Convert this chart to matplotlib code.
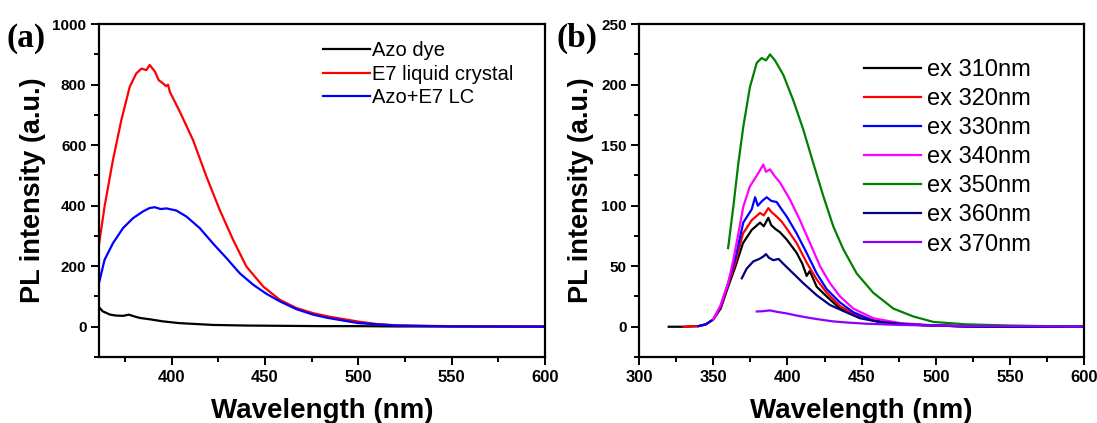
import matplotlib
matplotlib.use("Agg")
import matplotlib.pyplot as plt
from matplotlib.ticker import MultipleLocator

plt.rcParams['font.family'] = ['Liberation Sans', 'DejaVu Sans']

# ---- panel (a) data ----
wl_azo = [361, 363, 367, 370, 374, 377, 380, 383, 389, 395, 404, 413, 422, 431, 440, 460, 480, 500, 520, 550, 580, 600]
pl_azo = [65, 51, 40, 37, 36, 40, 34, 29, 24, 18, 12, 9, 6, 5, 4, 3, 2, 2, 1, 1, 1, 1]

wl_e7 = [361, 364, 368.5, 373, 377.5, 381, 383.8, 386.4, 388.2, 391, 393, 395.3, 397, 398, 399, 404.3,
         411.4, 418.6, 425.7, 432.9, 440, 449, 457.9, 466.8, 475.7, 483.8, 500, 510, 520, 535, 550, 575, 600]
pl_e7 = [271, 397, 551, 683, 793, 837, 853, 848, 865, 843, 815, 804, 795, 800, 776, 711,
         617, 496, 386, 287, 199, 133, 89, 62, 45, 34, 17, 9, 5, 3, 2, 1, 1]

wl_mix = [361, 364, 368.5, 373.9, 379.3, 384.6, 388, 390.9, 394, 397.2, 402.5, 407.9, 415, 422, 429.3,
          436.4, 443.6, 450.7, 457.9, 466.8, 475.7, 483.8, 500, 520, 550, 600]
pl_mix = [144, 221, 276, 326, 359, 381, 392, 395, 389, 391, 384, 364, 326, 276, 227,
          177, 139, 109, 84, 58, 40, 29, 12, 4, 1, 0]

# ---- panel (b) data: emission for each excitation wavelength ----
ex_labels = ['ex 310nm', 'ex 320nm', 'ex 330nm', 'ex 340nm', 'ex 350nm', 'ex 360nm', 'ex 370nm']
ex_colors = ['#000000', '#ff0000', '#0000ff', '#ff00ff', '#008000', '#000080', '#8b00ff']

wl_310 = [320, 330, 340, 345, 350, 355, 360, 365, 370, 375.9, 381.5, 384, 387.1, 389, 391.6, 395, 399.5,
          406.2, 410, 412.9, 415, 419.7, 426.4, 435.4, 444, 458, 475, 500, 530, 560, 600]
pl_310 = [0, 0, 0.5, 2, 6, 15, 33, 50, 69, 80, 86, 83, 90, 84, 81, 78, 72,
          61, 52, 42, 46, 33, 25, 15, 10, 5, 2, 1, 0, 0, 0]

wl_320 = [330, 340, 345, 350, 355, 360, 365, 370, 375.9, 381.5, 384, 387.1, 389, 392.7, 396, 399.5,
          406.2, 412.9, 419.7, 426.4, 435.4, 444, 458, 475, 500, 530, 560, 600]
pl_320 = [0, 0.5, 2, 6, 16, 35, 53, 77, 88, 94, 92, 98, 95, 91, 87, 81,
          69, 53, 39, 28, 17, 11, 5, 2, 1, 0, 0, 0]

wl_330 = [340, 345, 350, 355, 360, 365, 370.2, 375.9, 378.2, 380, 383, 386, 389, 392.7, 396, 399.5,
          406.2, 412.9, 419.7, 426.4, 435.4, 444.3, 457.8, 475, 500, 530, 560, 600]
pl_330 = [0.5, 2, 6, 17, 36, 57, 86, 97, 107, 100, 104, 107, 104, 103, 97, 91,
          77, 61, 44, 31, 20, 12, 5, 2, 1, 0, 0, 0]

wl_340 = [350, 355, 360, 363.5, 366.9, 370.2, 374.7, 380.4, 383.7, 385.5, 388.2, 391, 395, 401.7,
          408.4, 415.2, 421.9, 428.6, 435.4, 444.3, 457.8, 476, 500, 530, 560, 600]
pl_340 = [6, 18, 36, 55, 77, 99, 116, 127, 134, 128, 130, 125, 119, 105,
          88, 69, 50, 36, 25, 15, 7, 3, 1, 0, 0, 0]

wl_350 = [360, 363.5, 366.9, 370.2, 374.7, 379.3, 382.6, 385.5, 388.2, 391.6, 397.2, 403.9, 410.6,
          417.4, 424.1, 430.8, 437.6, 446.6, 457.8, 471.3, 484.7, 498.2, 520, 550, 600]
pl_350 = [65, 99, 135, 165, 198, 218, 222, 220, 225, 220, 208, 187, 163,
          135, 108, 83, 64, 44, 28, 15, 8.5, 4, 2, 1, 0]

wl_360 = [369.2, 372.5, 377, 381, 383.7, 385.5, 387.5, 390.4, 394, 397.2, 403.9, 410.6, 419.7,
          428.6, 437.6, 448.8, 462, 480, 500, 530, 560, 600]
pl_360 = [40, 48, 54, 56, 58, 60, 57, 55, 56, 52, 44, 36, 26,
          18, 13, 7, 4, 2, 1, 0, 0, 0]

wl_370 = [379.3, 383, 388.2, 393, 399.5, 406, 412.9, 420, 430.8, 440, 453, 476, 500, 530, 560, 600]
pl_370 = [12.6, 12.8, 13.5, 12.3, 11, 9.3, 7.7, 6.3, 4.4, 3.5, 2.5, 1.5, 1, 0.5, 0.5, 0]

ex_wl = [wl_310, wl_320, wl_330, wl_340, wl_350, wl_360, wl_370]
ex_pl = [pl_310, pl_320, pl_330, pl_340, pl_350, pl_360, pl_370]

fig = plt.figure(figsize=(10.97, 4.23), dpi=100)
ax1 = fig.add_axes([0.0902, 0.156, 0.4066, 0.787])
ax2 = fig.add_axes([0.5825, 0.156, 0.4061, 0.787])

lw = 1.6
ax1.plot(wl_azo, pl_azo, color='#000000', lw=lw, label='Azo dye')
ax1.plot(wl_e7, pl_e7, color='#ff0000', lw=lw, label='E7 liquid crystal')
ax1.plot(wl_mix, pl_mix, color='#0000ff', lw=lw, label='Azo+E7 LC')
ax1.set_xlim(361, 600)
ax1.set_ylim(-100, 1000)
ax1.xaxis.set_major_locator(MultipleLocator(50))
ax1.xaxis.set_minor_locator(MultipleLocator(25))
ax1.yaxis.set_major_locator(MultipleLocator(200))
ax1.yaxis.set_minor_locator(MultipleLocator(100))

for wl, pl, c, lab in zip(ex_wl, ex_pl, ex_colors, ex_labels):
    ax2.plot(wl, pl, color=c, lw=lw, label=lab)
ax2.set_xlim(300, 600)
ax2.set_ylim(-25, 250)
ax2.xaxis.set_major_locator(MultipleLocator(50))
ax2.xaxis.set_minor_locator(MultipleLocator(25))
ax2.yaxis.set_major_locator(MultipleLocator(50))
ax2.yaxis.set_minor_locator(MultipleLocator(25))

for ax in (ax1, ax2):
    for s in ax.spines.values():
        s.set_linewidth(1.6)
    ax.tick_params(which='both', direction='out', width=1.4, top=False, right=False)
    ax.tick_params(which='major', length=6, pad=3)
    ax.tick_params(which='minor', length=3.5)
    ax.tick_params(axis='x', labelsize=12)
    ax.tick_params(axis='y', labelsize=11)
    for t in ax.get_xticklabels() + ax.get_yticklabels():
        t.set_fontweight('bold')
    ax.set_xlabel('Wavelength (nm)', fontsize=20, fontweight='bold', labelpad=10)
    ax.set_ylabel('PL intensity (a.u.)', fontsize=19.5, fontweight='bold', labelpad=5)

ax1.legend(loc='upper left', bbox_to_anchor=(0.503, 0.95), frameon=False, fontsize=14.5,
           handlelength=2.3, handletextpad=0.1, labelspacing=0.24, borderpad=0, borderaxespad=0)
ax2.legend(loc='upper left', bbox_to_anchor=(0.505, 0.895), frameon=False, fontsize=17,
           handlelength=2.4, handletextpad=0.25, labelspacing=0.3, borderpad=0, borderaxespad=0)

fig.text(0.006, 0.91, '(a)', fontsize=24, fontweight='bold', family='Liberation Serif', va='center')
fig.text(0.507, 0.91, '(b)', fontsize=24, fontweight='bold', family='Liberation Serif', va='center')

fig.savefig('out.png', dpi=100)
